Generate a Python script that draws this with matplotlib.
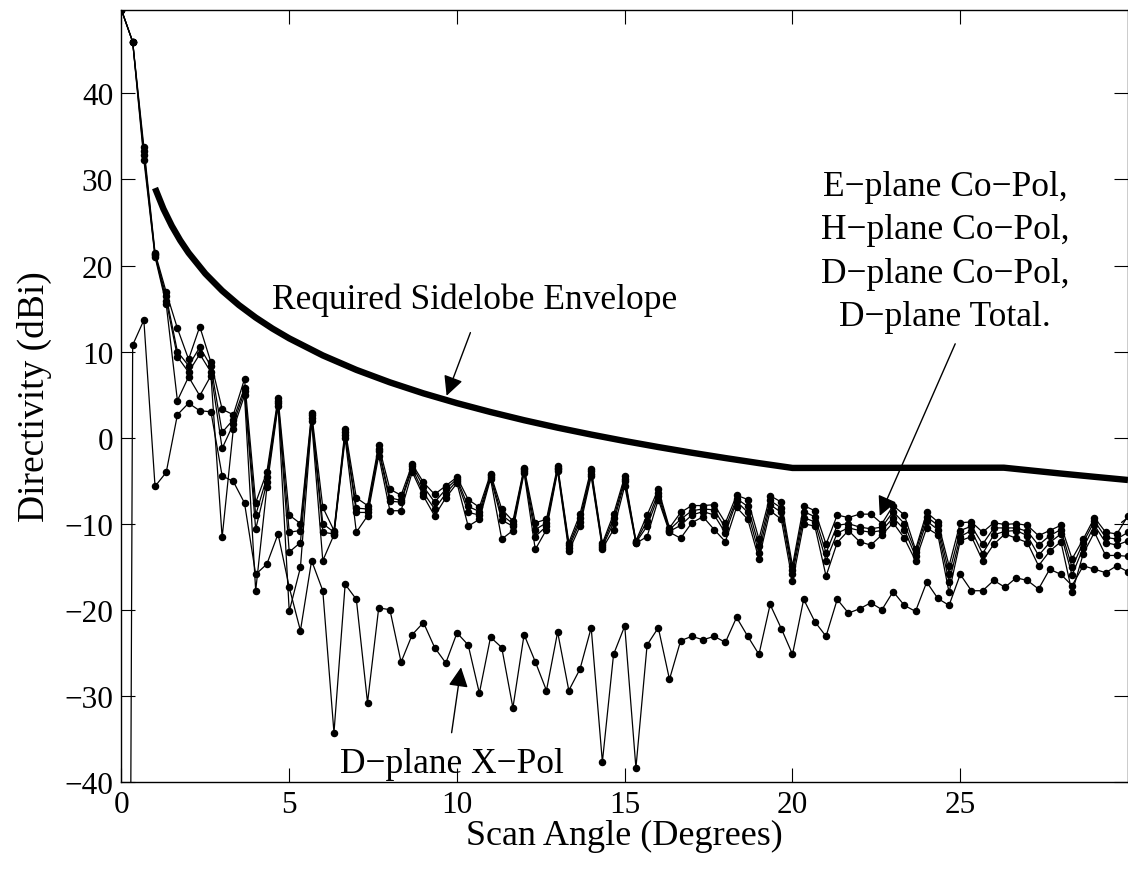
import numpy as np
import matplotlib
matplotlib.use('Agg')
import matplotlib.pyplot as plt

plt.rcParams['font.family'] = ['Liberation Serif', 'DejaVu Serif']

# scan angle grid (1/3 degree steps from 0 to 30)
scan_angle = np.arange(91) / 3.0

# co-pol cuts (dBi)
e_copol = [49.7, 46.0, 33.8, 21.5, 16.9, 12.7, 9.1, 12.9, 8.74, 3.3,
           2.65, 6.8, -7.56, -4.0, 4.65, -9.0, -10.0, 2.9, -8.1, -10.8,
           1.0, -7.0, -7.9, -0.9, -6.0, -6.7, -3.1, -5.2, -6.6, -5.6,
           -4.6, -7.2, -8.1, -4.2, -8.3, -9.7, -3.5, -9.9, -9.5, -3.3,
           -12.2, -8.9, -3.6, -12.3, -8.9, -4.5, -12.0, -9.0, -6.0, -10.5,
           -8.7, -7.9, -7.9, -7.8, -9.9, -6.7, -7.2, -11.8, -6.75, -7.5,
           -14.9, -7.9, -8.5, -12.4, -9.0, -9.3, -8.9, -8.9, -10.0, -7.9,
           -9.0, -13.0, -8.7, -9.8, -14.9, -9.9, -9.8, -11.0, -9.9, -10.1,
           -10.0, -10.2, -11.4, -10.8, -10.2, -14.1, -11.8, -9.3, -11.0, -11.2,
           -9.1]
h_copol = [49.7, 46.0, 33.3, 21.3, 16.4, 10.0, 8.35, 10.5, 8.3, 0.6,
           2.1, 5.8, -9.0, -4.6, 4.3, -11.0, -10.8, 2.6, -10.0, -11.0,
           0.6, -8.2, -8.3, -1.3, -7.0, -7.3, -3.3, -5.7, -7.5, -6.0,
           -4.8, -8.0, -8.6, -4.4, -9.0, -10.0, -3.7, -10.7, -9.9, -3.5,
           -12.5, -9.4, -3.9, -12.5, -9.4, -4.8, -12.1, -9.7, -6.4, -10.7,
           -9.5, -8.5, -8.3, -8.4, -10.5, -7.1, -8.0, -12.6, -7.3, -8.2,
           -15.4, -8.6, -9.2, -13.4, -10.2, -10.0, -10.4, -10.6, -10.4, -8.6,
           -10.0, -13.3, -9.2, -10.2, -15.8, -10.8, -10.3, -12.4, -10.5, -10.5,
           -10.5, -10.9, -12.5, -11.4, -10.7, -15.1, -12.2, -9.7, -11.6, -11.8,
           -11.0]
d_copol = [49.7, 46.0, 32.8, 21.2, 15.9, 9.4, 7.6, 9.7, 7.6, -1.26,
           1.57, 5.4, -10.65, -5.2, 4.0, -13.3, -12.2, 2.3, -11.0, -11.2,
           0.3, -8.7, -8.7, -1.6, -7.4, -7.5, -3.6, -6.4, -8.3, -6.5,
           -5.0, -8.7, -9.0, -4.6, -9.6, -10.3, -3.9, -11.5, -10.3, -3.7,
           -12.8, -9.8, -4.2, -12.7, -9.9, -5.1, -12.2, -10.3, -6.8, -10.9,
           -10.2, -9.0, -8.6, -9.0, -11.1, -7.4, -8.7, -13.4, -7.8, -8.7,
           -15.9, -9.3, -9.8, -14.3, -11.1, -10.5, -10.8, -11.0, -10.8, -9.3,
           -10.7, -13.8, -9.7, -10.7, -16.8, -11.5, -10.8, -13.5, -11.3, -10.9,
           -10.8, -11.4, -13.7, -12.2, -11.2, -16.0, -12.8, -10.2, -12.2, -12.5,
           -12.0]
d_total = [49.7, 46.0, 32.3, 21.0, 15.5, 4.3, 7.06, 4.86, 7.2, -11.6,
           1.0, 4.9, -17.8, -5.8, 3.7, -20.2, -15.1, 1.9, -14.3, -11.3,
           -0.1, -11.0, -9.1, -2.1, -8.5, -8.5, -4.0, -6.8, -9.1, -7.0,
           -5.3, -10.3, -9.5, -4.8, -11.8, -10.8, -4.1, -13.0, -10.7, -3.9,
           -13.2, -10.3, -4.5, -12.9, -10.7, -5.6, -12.3, -11.5, -7.2, -11.0,
           -11.7, -9.9, -9.2, -10.7, -12.1, -8.1, -9.5, -14.1, -8.5, -9.5,
           -16.7, -10.0, -10.3, -16.1, -12.2, -10.8, -12.1, -12.5, -11.3, -9.9,
           -11.7, -14.3, -10.5, -11.3, -18.0, -12.0, -11.5, -14.3, -12.4, -11.2,
           -11.7, -12.2, -14.9, -13.2, -12.1, -18.0, -13.5, -11.0, -13.7, -13.7,
           -13.8]
d_xpol = [-300.0, 10.75, 13.65, -5.67, -4.04, 2.65, 4.0, 3.12, 3.0, -4.45,
          -5.1, -7.6, -15.9, -14.7, -11.2, -17.4, -22.45, -14.3, -17.8, -34.3,
          -17.05, -18.8, -30.8, -19.8, -20.0, -26.1, -22.9, -21.5, -24.4, -26.2,
          -22.7, -24.1, -29.7, -23.2, -24.4, -31.4, -22.9, -26.05, -29.4, -22.6,
          -29.4, -26.9, -22.1, -37.7, -25.2, -21.9, -38.4, -24.1, -22.1, -28.1,
          -23.6, -23.1, -23.5, -23.1, -23.8, -20.9, -23.1, -25.2, -19.4, -22.2,
          -25.2, -18.8, -21.4, -23.1, -18.8, -20.4, -19.9, -19.2, -20.0, -17.9,
          -19.5, -20.2, -16.8, -18.7, -19.5, -15.9, -17.8, -17.8, -16.6, -17.4,
          -16.3, -16.6, -17.6, -15.3, -15.9, -17.2, -14.9, -15.3, -15.7, -14.9,
          -15.6]

# required sidelobe envelope
env_x = [1.0, 1.25, 1.5, 1.75, 2.0, 2.5, 3.0, 3.5, 4.0, 4.5, 5.0, 6.0, 7.0,
         8.0, 9.0, 10.0, 11.0, 12.0, 13.0, 14.0, 15.0, 16.0, 17.0, 18.0,
         19.0, 20.0, 26.3, 27.0, 28.0, 29.0, 30.0]
env_y = [29.0, 26.58, 24.60, 22.92, 21.47, 19.05, 17.07, 15.40, 13.95, 12.67,
         11.53, 9.55, 7.87, 6.42, 5.14, 4.0, 2.97, 2.02, 1.15, 0.35, -0.40,
         -1.10, -1.76, -2.38, -2.97, -3.53, -3.5, -3.78, -4.18, -4.56, -4.93]

fig = plt.figure(figsize=(11.28, 8.7), dpi=100)
ax = fig.add_axes([0.1077, 0.1003, 0.8923, 0.8871])

for series in [e_copol, h_copol, d_copol, d_total, d_xpol]:
    ax.plot(scan_angle, series, color='k', lw=0.9, marker='o', ms=4.4,
            mfc='k', mec='k')
ax.plot(env_x, env_y, color='k', lw=4.6, solid_capstyle='butt')

ax.set_xlim(0, 30)
ax.set_ylim(-40, 49.7)
ax.set_xticks([0, 5, 10, 15, 20, 25])
ax.set_yticks([-40, -30, -20, -10, 0, 10, 20, 30, 40])
ax.tick_params(direction='in', length=10, width=0.8, top=True, right=True,
               labelsize=22.5, pad=6)
for sp in ax.spines.values():
    sp.set_linewidth(1.0)

ax.set_xlabel('Scan Angle (Degrees)', fontsize=26, labelpad=0)
ax.set_ylabel('Directivity (dBi)', fontsize=27, labelpad=9)

arrow = dict(arrowstyle='-|>', color='k', lw=1.0, mutation_scale=30,
             shrinkA=0, shrinkB=0)
ax.text(10.53, 16.1, 'Required Sidelobe Envelope', fontsize=25.5,
        ha='center', va='center')
ax.annotate('', xy=(9.69, 4.86), xytext=(10.4, 12.2), arrowprops=arrow)

ax.text(24.54, 21.6, 'E\u2212plane Co\u2212Pol,\nH\u2212plane Co\u2212Pol,\n'
        'D\u2212plane Co\u2212Pol,\nD\u2212plane Total.', fontsize=25.5,
        ha='center', va='center', linespacing=1.42)
ax.annotate('', xy=(22.6, -9.1), xytext=(24.85, 10.9), arrowprops=arrow)
ax.annotate('', xy=(29.81, -9.86), xytext=(30.3, -8.4),
            arrowprops=dict(arrowstyle='-', color='k', lw=1.0,
                            shrinkA=0, shrinkB=0))

ax.text(9.85, -37.9, 'D\u2212plane X\u2212Pol', fontsize=25.5,
        ha='center', va='center')
ax.annotate('', xy=(10.12, -26.7), xytext=(9.84, -34.3), arrowprops=arrow)

fig.savefig('out.png', dpi=100)
